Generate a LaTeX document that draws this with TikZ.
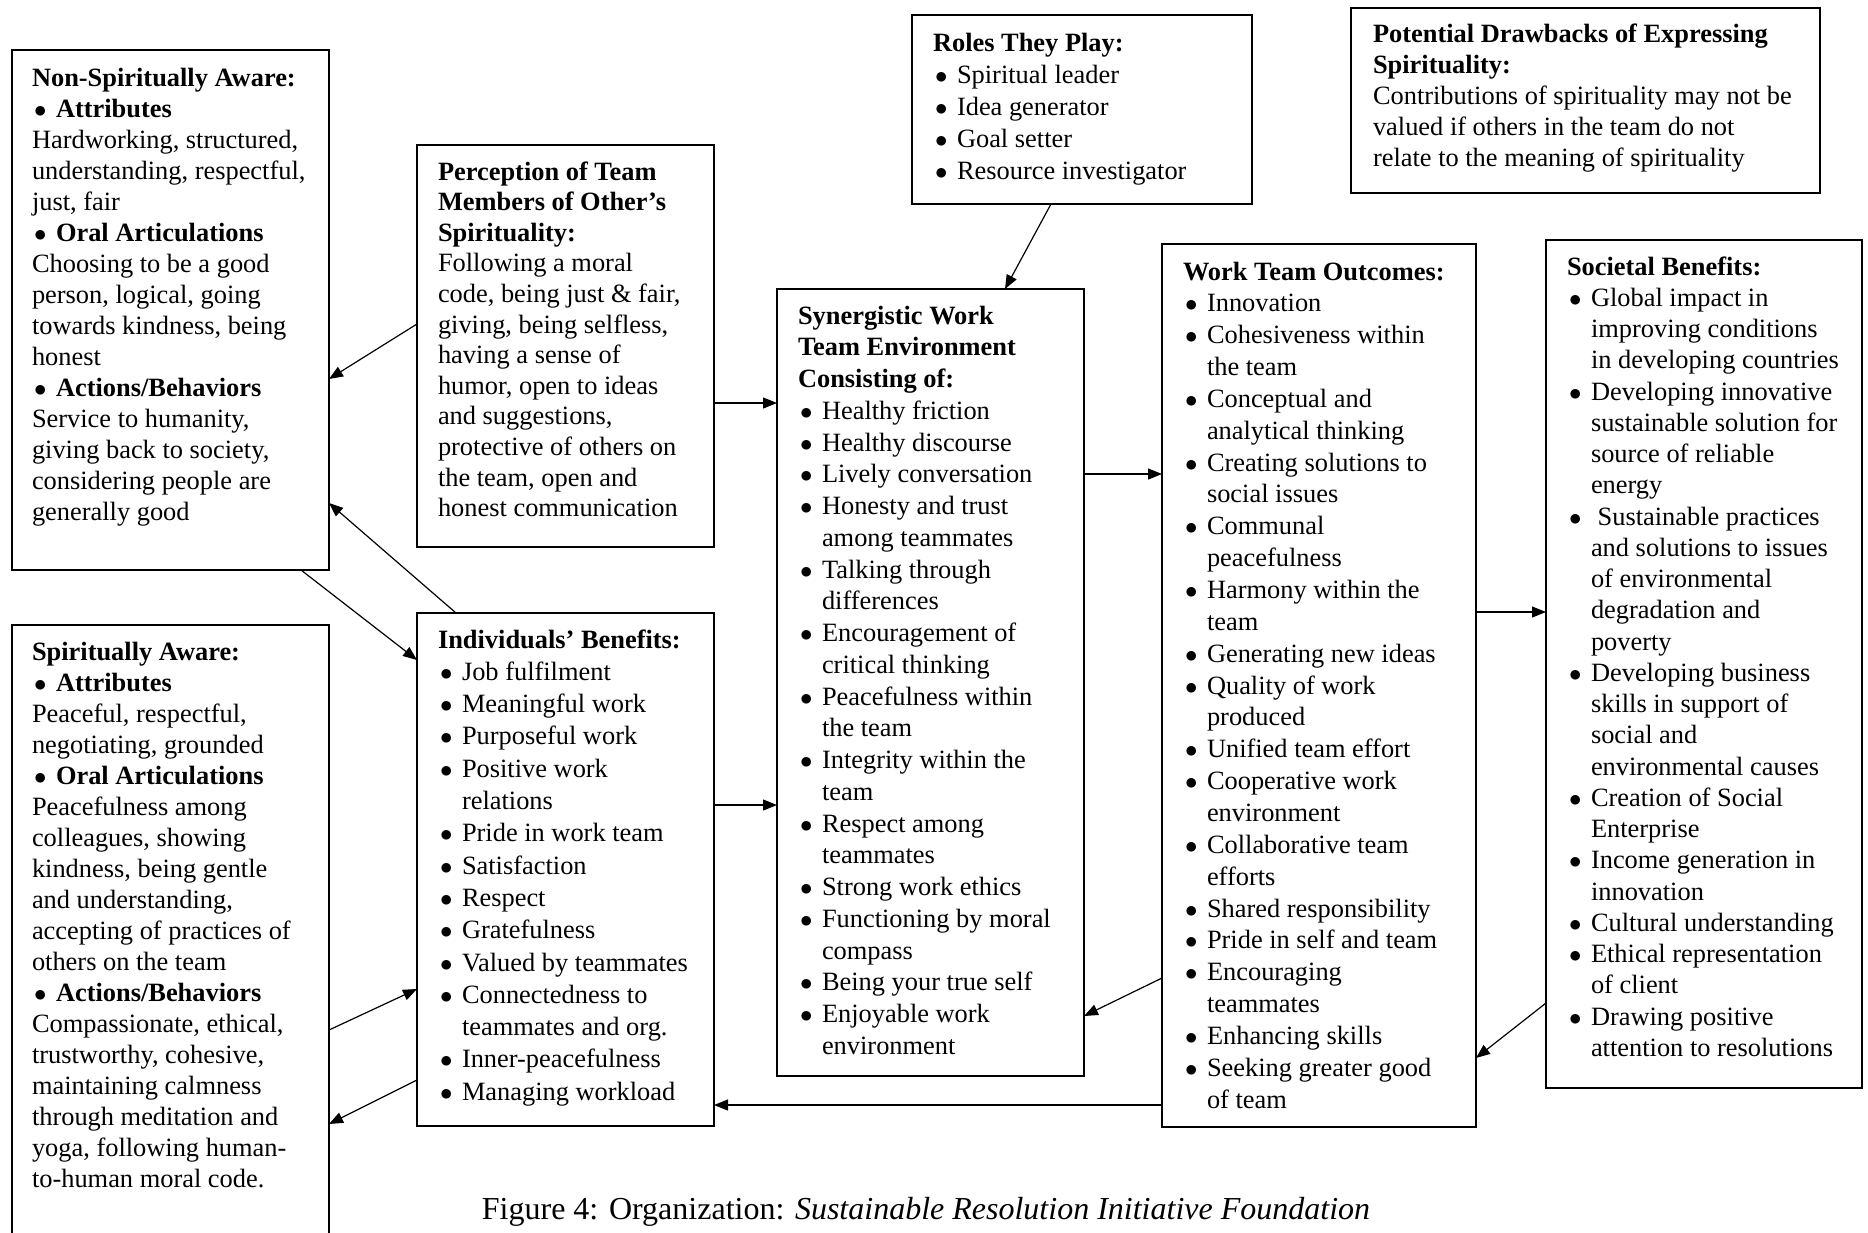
\documentclass[tikz,border=0pt]{standalone}
\usepackage{fontspec}
\setmainfont{Liberation Serif}
\usetikzlibrary{arrows.meta,calc}

% bullet marker and hanging indent for list lines
\newcommand{\bu}{\makebox[24pt][l]{\hspace{2pt}$\bullet$}}
\newcommand{\cont}{\hspace*{24pt}}
% block of lines with a given line pitch
\newcommand{\boxtext}[2]{\parbox[t]{560pt}{\raggedright\fontsize{26.4}{#1}\selectfont #2}}

\begin{document}
\begin{tikzpicture}[x=1pt,y=-1pt,
  panel/.style={draw=black, line width=2.2pt, inner sep=0pt, outer sep=0pt, anchor=north west},
  body/.style={inner sep=0pt, outer sep=0pt, anchor=base west},
  link/.style={line width=1.2pt, -{Triangle[length=14pt,width=11pt]}}]
\clip (0,0) rectangle (1868,1232);
\fill[white] (0,0) rectangle (1868,1232);

% ---------- frames ----------
\node[panel, minimum width=317pt, minimum height=520pt] (ns) at (12,50) {};
\node[panel, minimum width=317pt, minimum height=625pt] (sa) at (12,625) {};
\node[panel, minimum width=297pt, minimum height=402pt] (perc) at (417,145) {};
\node[panel, minimum width=297pt, minimum height=513pt] (ind) at (417,613) {};
\node[panel, minimum width=340pt, minimum height=189pt] (roles) at (912,15) {};
\node[panel, minimum width=307pt, minimum height=787pt] (syn) at (777,289) {};
\node[panel, minimum width=314pt, minimum height=883pt] (wto) at (1162,244) {};
\node[panel, minimum width=316pt, minimum height=848pt] (soc) at (1546,240) {};
\node[panel, minimum width=469pt, minimum height=185pt] (pot) at (1351,8) {};

% ---------- texts ----------
\node[body] (nsT) at (32,86) {\boxtext{31}{%
\textbf{Non-Spiritually Aware:}\\
\bu\textbf{Attributes}\\
Hardworking, structured,\\
understanding, respectful,\\
just, fair\\
\bu\textbf{Oral Articulations}\\
Choosing to be a good\\
person, logical, going\\
towards kindness, being\\
honest\\
\bu\textbf{Actions/Behaviors}\\
Service to humanity,\\
giving back to society,\\
considering people are\\
generally good}};

\node[body] (saT) at (32,660) {\boxtext{31}{%
\textbf{Spiritually Aware:}\\
\bu\textbf{Attributes}\\
Peaceful, respectful,\\
negotiating, grounded\\
\bu\textbf{Oral Articulations}\\
Peacefulness among\\
colleagues, showing\\
kindness, being gentle\\
and understanding,\\
accepting of practices of\\
others on the team\\
\bu\textbf{Actions/Behaviors}\\
Compassionate, ethical,\\
trustworthy, cohesive,\\
maintaining calmness\\
through meditation and\\
yoga, following human-\\
to-human moral code.}};

\node[body] (percT) at (438,180) {\boxtext{30.6}{%
\textbf{Perception of Team}\\
\textbf{Members of Other’s}\\
\textbf{Spirituality:}\\
Following a moral\\
code, being just \& fair,\\
giving, being selfless,\\
having a sense of\\
humor, open to ideas\\
and suggestions,\\
protective of others on\\
the team, open and\\
honest communication}};

\node[body] (indT) at (438,648) {\boxtext{32.3}{%
\textbf{Individuals’ Benefits:}\\
\bu Job fulfilment\\
\bu Meaningful work\\
\bu Purposeful work\\
\bu Positive work\\
\cont relations\\
\bu Pride in work team\\
\bu Satisfaction\\
\bu Respect\\
\bu Gratefulness\\
\bu Valued by teammates\\
\bu Connectedness to\\
\cont teammates and org.\\
\bu Inner-peacefulness\\
\bu Managing workload}};

\node[body] (rolesT) at (933,51) {\boxtext{32.2}{%
\textbf{Roles They Play:}\\
\bu Spiritual leader\\
\bu Idea generator\\
\bu Goal setter\\
\bu Resource investigator}};

\node[body] (synT) at (798,324) {\boxtext{31.75}{%
\textbf{Synergistic Work}\\
\textbf{Team Environment}\\
\textbf{Consisting of:}\\
\bu Healthy friction\\
\bu Healthy discourse\\
\bu Lively conversation\\
\bu Honesty and trust\\
\cont among teammates\\
\bu Talking through\\
\cont differences\\
\bu Encouragement of\\
\cont critical thinking\\
\bu Peacefulness within\\
\cont the team\\
\bu Integrity within the\\
\cont team\\
\bu Respect among\\
\cont teammates\\
\bu Strong work ethics\\
\bu Functioning by moral\\
\cont compass\\
\bu Being your true self\\
\bu Enjoyable work\\
\cont environment}};

\node[body] (wtoT) at (1183,280) {\boxtext{31.85}{%
\textbf{Work Team Outcomes:}\\
\bu Innovation\\
\bu Cohesiveness within\\
\cont the team\\
\bu Conceptual and\\
\cont analytical thinking\\
\bu Creating solutions to\\
\cont social issues\\
\bu Communal\\
\cont peacefulness\\
\bu Harmony within the\\
\cont team\\
\bu Generating new ideas\\
\bu Quality of work\\
\cont produced\\
\bu Unified team effort\\
\bu Cooperative work\\
\cont environment\\
\bu Collaborative team\\
\cont efforts\\
\bu Shared responsibility\\
\bu Pride in self and team\\
\bu Encouraging\\
\cont teammates\\
\bu Enhancing skills\\
\bu Seeking greater good\\
\cont of team}};

\node[body] (socT) at (1567,275) {\boxtext{31.26}{%
\textbf{Societal Benefits:}\\
\bu Global impact in\\
\cont improving conditions\\
\cont in developing countries\\
\bu Developing innovative\\
\cont sustainable solution for\\
\cont source of reliable\\
\cont energy\\
\bu\ Sustainable practices\\
\cont and solutions to issues\\
\cont of environmental\\
\cont degradation and\\
\cont poverty\\
\bu Developing business\\
\cont skills in support of\\
\cont social and\\
\cont environmental causes\\
\bu Creation of Social\\
\cont Enterprise\\
\bu Income generation in\\
\cont innovation\\
\bu Cultural understanding\\
\bu Ethical representation\\
\cont of client\\
\bu Drawing positive\\
\cont attention to resolutions}};

\node[body] (potT) at (1373,42.5) {\boxtext{31}{%
\textbf{Potential Drawbacks of Expressing}\\
\textbf{Spirituality:}\\
Contributions of spirituality may not be\\
valued if others in the team do not\\
relate to the meaning of spirituality}};

% ---------- caption ----------
\node[inner sep=0pt, anchor=base] (cap) at (926,1219)
  {\fontsize{32}{36}\selectfont Figure 4: Organization: \textit{Sustainable Resolution Initiative Foundation}};

% ---------- connectors ----------
\draw[link] ($(perc.north west)+(0,179)$) -- ($(ns.north east)+(0,329)$);
\draw[link] ($(ind.north west)+(39,0)$) -- ($(ns.north east)+(0,453)$);
\draw[link] ($(ns.south west)+(289,0)$) -- ($(ind.north west)+(0,47)$);
\draw[link] ($(sa.north east)+(0,405)$) -- ($(ind.north west)+(0,376)$);
\draw[link] ($(ind.north west)+(0,467)$) -- ($(sa.north east)+(0,499)$);
\draw[link] ($(perc.north east)+(0,258)$) -- ($(syn.north west)+(0,114)$);
\draw[link] ($(roles.south west)+(139,0)$) -- ($(syn.north west)+(228,0)$);
\draw[link] ($(ind.north east)+(0,192)$) -- ($(syn.north west)+(0,516)$);
\draw[link] ($(syn.north east)+(0,185)$) -- ($(wto.north west)+(0,230)$);
\draw[link] ($(wto.north west)+(0,734)$) -- ($(syn.north east)+(0,727)$);
\draw[link] ($(wto.north east)+(0,368)$) -- ($(soc.north west)+(0,372)$);
\draw[link] ($(soc.north west)+(0,763)$) -- ($(wto.north east)+(0,814)$);
\draw[link] ($(wto.north west)+(0,861)$) -- ($(ind.north east)+(0,492)$);
\end{tikzpicture}
\end{document}
